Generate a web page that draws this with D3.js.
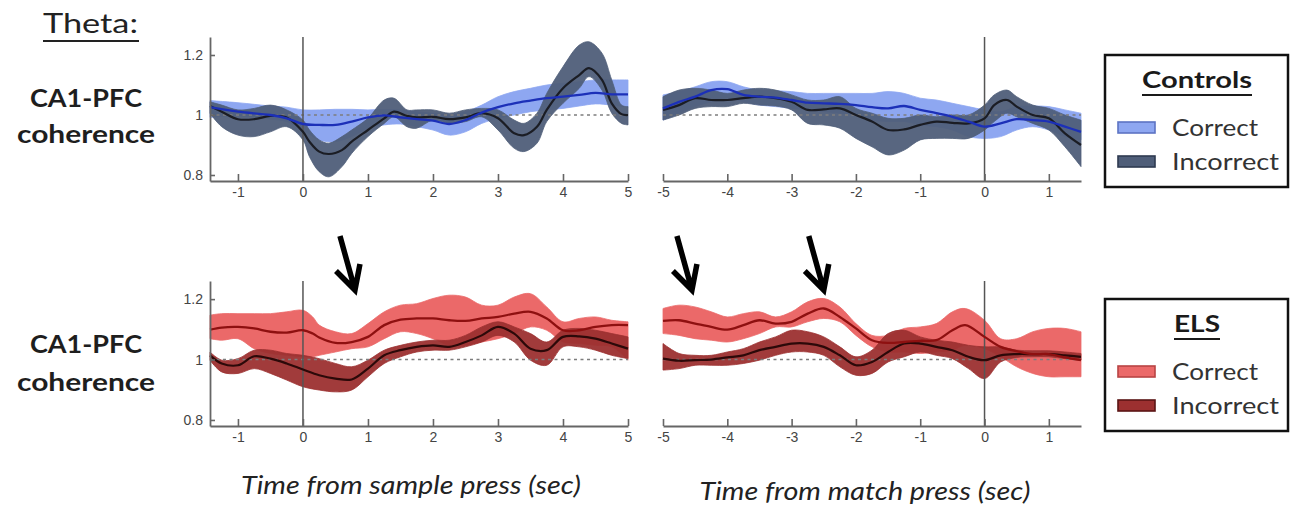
<!DOCTYPE html>
<html>
<head>
<meta charset="utf-8">
<script src="https://cdn.jsdelivr.net/npm/d3@7"></script>
<style>
  body { margin: 0; background: #fff; }
  svg { display: block; }
</style>
</head>
<body>
<svg id="chart" width="1293" height="506"></svg>
<script>
// ---------- axes ----------
const yDomain = [0.78, 1.26];
const yTicks = [0.8, 1, 1.2];
const sampleDomain = [-1.43, 5];
const matchDomain = [-5, 1.5];
const sampleTicks = [-1, 0, 1, 2, 3, 4, 5];
const matchTicks = [-5, -4, -3, -2, -1, 0, 1];

// ---------- Controls, time from sample press ----------
const ctlSampleCorT    = [-1.43,-1,-0.5,-0.25,0,0.25,0.5,0.75,1,1.25,1.5,1.75,2,2.25,2.5,2.75,3,3.25,3.5,3.75,4,4.25,4.5,4.75,5];
const ctlSampleCorMean = [1.026,1.011,1.000,0.989,0.970,0.967,0.967,0.978,0.992,0.999,0.992,0.986,0.981,0.970,0.983,1.008,1.026,1.039,1.048,1.056,1.061,1.067,1.074,1.069,1.069];
const ctlSampleCorHi   = [1.048,1.041,1.030,1.026,1.017,1.017,1.019,1.019,1.017,1.019,1.017,1.011,1.006,1.000,1.011,1.033,1.061,1.078,1.089,1.100,1.106,1.111,1.117,1.117,1.117];
const ctlSampleCorLo   = [0.992,0.997,0.986,0.978,0.950,0.917,0.911,0.928,0.956,0.967,0.970,0.961,0.950,0.933,0.944,0.972,0.989,1.000,1.011,1.017,1.022,1.030,1.037,1.033,1.026];

const ctlSampleIncT    = [-1.43,-1.25,-1,-0.75,-0.5,-0.25,0,0.1,0.25,0.4,0.6,0.75,1,1.25,1.4,1.6,1.75,2,2.25,2.5,2.75,3,3.25,3.4,3.6,3.75,4,4.25,4.4,4.6,4.75,4.9,5];
const ctlSampleIncMean = [1.030,1.011,0.986,0.986,0.997,0.992,0.944,0.911,0.878,0.870,0.883,0.911,0.950,0.989,1.011,0.997,0.992,0.994,0.986,0.992,1.006,0.989,0.939,0.933,0.961,1.017,1.089,1.133,1.156,1.117,1.039,1.003,1.000];
const ctlSampleIncHi   = [1.044,1.033,1.017,1.022,1.033,1.017,0.983,0.950,0.917,0.906,0.928,0.950,0.989,1.050,1.056,1.017,1.017,1.017,1.006,1.017,1.022,1.017,0.983,0.972,1.006,1.072,1.161,1.233,1.244,1.206,1.117,1.033,1.028];
const ctlSampleIncLo   = [1.006,0.961,0.933,0.928,0.944,0.961,0.917,0.861,0.811,0.794,0.828,0.872,0.928,0.972,0.994,0.961,0.956,0.983,0.972,0.978,0.994,0.950,0.889,0.878,0.906,0.978,1.039,1.089,1.128,1.083,1.006,0.972,0.967];

// ---------- Controls, time from match press ----------
const ctlMatchCorT    = [-5,-4.75,-4.5,-4.25,-4,-3.75,-3.5,-3.25,-3,-2.75,-2.5,-2.25,-2,-1.75,-1.5,-1.25,-1,-0.75,-0.5,-0.25,0,0.25,0.5,0.75,1,1.25,1.5];
const ctlMatchCorMean = [1.022,1.044,1.061,1.083,1.086,1.067,1.061,1.058,1.050,1.041,1.039,1.037,1.033,1.026,1.022,1.030,1.017,1.006,0.994,0.978,0.961,0.972,0.986,0.983,0.978,0.961,0.944];
const ctlMatchCorHi   = [1.067,1.078,1.094,1.111,1.111,1.094,1.083,1.081,1.078,1.072,1.072,1.072,1.072,1.072,1.078,1.072,1.056,1.050,1.039,1.028,1.017,1.011,1.028,1.030,1.028,1.017,1.006];
const ctlMatchCorLo   = [0.983,1.006,1.028,1.044,1.056,1.044,1.033,1.028,1.022,1.017,1.011,1.006,1.000,0.983,0.978,0.978,0.967,0.961,0.950,0.928,0.922,0.928,0.950,0.961,0.950,0.928,0.917];

const ctlMatchIncT    = [-5,-4.75,-4.5,-4.25,-4,-3.75,-3.5,-3.25,-3,-2.75,-2.5,-2.25,-2,-1.75,-1.5,-1.25,-1,-0.75,-0.5,-0.25,0,0.15,0.35,0.5,0.75,1,1.25,1.5];
const ctlMatchIncMean = [1.017,1.033,1.056,1.050,1.050,1.056,1.061,1.056,1.044,1.017,1.019,1.022,1.000,0.978,0.950,0.952,0.967,0.978,0.974,0.972,0.989,1.033,1.050,1.028,1.000,0.989,0.939,0.900];
const ctlMatchIncHi   = [1.061,1.083,1.089,1.083,1.072,1.083,1.089,1.083,1.067,1.050,1.050,1.061,1.022,1.006,0.989,0.989,1.000,0.994,1.000,1.000,1.033,1.067,1.083,1.061,1.033,1.022,1.000,0.983];
const ctlMatchIncLo   = [0.983,1.000,1.022,1.028,1.028,1.039,1.033,1.030,1.017,0.972,0.967,0.956,0.922,0.894,0.867,0.883,0.917,0.922,0.922,0.922,0.950,0.978,1.006,0.994,0.972,0.950,0.894,0.828];

// ---------- ELS, time from sample press ----------
const elsSampleCorT    = [-1.43,-1.25,-1,-0.75,-0.5,-0.25,0,0.15,0.25,0.5,0.75,1,1.25,1.5,1.75,2,2.25,2.5,2.75,3,3.25,3.5,3.75,4,4.25,4.5,4.75,5];
const elsSampleCorMean = [1.099,1.106,1.108,1.103,1.092,1.089,1.097,1.086,1.073,1.055,1.058,1.075,1.114,1.132,1.136,1.136,1.130,1.128,1.136,1.141,1.152,1.158,1.136,1.097,1.097,1.108,1.114,1.114];
const elsSampleCorHi   = [1.147,1.152,1.152,1.152,1.152,1.158,1.163,1.141,1.114,1.092,1.086,1.119,1.158,1.180,1.185,1.202,1.213,1.207,1.180,1.180,1.207,1.218,1.174,1.125,1.136,1.141,1.130,1.125];
const elsSampleCorLo   = [1.069,1.064,1.069,1.036,1.020,1.014,1.009,1.009,1.014,1.025,1.036,1.042,1.069,1.092,1.086,1.069,1.047,1.047,1.058,1.069,1.086,1.108,1.097,1.058,1.053,1.047,1.042,0.998];

const elsSampleIncT    = [-1.43,-1.25,-1,-0.75,-0.5,-0.25,0,0.25,0.5,0.75,1,1.25,1.5,1.75,2,2.25,2.5,2.75,3,3.25,3.5,3.75,4,4.25,4.5,4.75,5];
const elsSampleIncMean = [1.014,0.987,0.981,1.011,1.003,0.987,0.967,0.948,0.937,0.934,0.970,1.014,1.031,1.042,1.047,1.042,1.058,1.080,1.108,1.086,1.036,1.031,1.075,1.077,1.069,1.053,1.036];
const elsSampleIncHi   = [1.025,0.998,1.003,1.031,1.031,1.020,1.014,1.003,0.987,0.976,0.998,1.031,1.047,1.058,1.064,1.064,1.080,1.108,1.125,1.108,1.086,1.058,1.097,1.103,1.097,1.086,1.075];
const elsSampleIncLo   = [0.998,0.959,0.954,0.970,0.954,0.932,0.910,0.899,0.893,0.899,0.943,0.987,1.009,1.025,1.031,1.031,1.042,1.058,1.080,1.058,0.998,0.981,1.042,1.042,1.031,1.014,1.003];

// ---------- ELS, time from match press ----------
const elsMatchCorT    = [-5,-4.75,-4.5,-4.25,-4,-3.75,-3.5,-3.25,-3,-2.75,-2.5,-2.25,-2,-1.75,-1.5,-1.25,-1,-0.75,-0.5,-0.3,0,0.25,0.5,0.75,1,1.25,1.5];
const elsMatchCorMean = [1.128,1.130,1.119,1.108,1.099,1.114,1.130,1.119,1.125,1.152,1.169,1.141,1.103,1.064,1.055,1.058,1.062,1.064,1.097,1.114,1.075,1.042,1.028,1.018,1.018,1.007,0.998];
const elsMatchCorHi   = [1.169,1.180,1.174,1.158,1.141,1.152,1.158,1.141,1.158,1.191,1.202,1.174,1.119,1.080,1.080,1.103,1.108,1.119,1.158,1.169,1.130,1.069,1.069,1.092,1.103,1.103,1.092];
const elsMatchCorLo   = [1.086,1.080,1.069,1.064,1.058,1.069,1.086,1.108,1.108,1.125,1.136,1.125,1.080,1.042,1.025,1.025,1.020,1.025,1.031,1.047,1.036,1.009,0.976,0.954,0.943,0.943,0.943];

const elsMatchIncT    = [-5,-4.75,-4.5,-4.25,-4,-3.75,-3.5,-3.25,-3,-2.75,-2.5,-2.25,-2,-1.75,-1.5,-1.25,-1,-0.75,-0.5,-0.25,0,0.25,0.5,0.75,1,1.25,1.5];
const elsMatchIncMean = [1.003,0.996,0.998,1.000,1.007,1.014,1.031,1.042,1.053,1.053,1.042,1.014,0.981,0.992,1.025,1.053,1.053,1.042,1.031,1.009,0.998,1.014,1.018,1.018,1.018,1.014,1.009];
const elsMatchIncHi   = [1.053,1.020,1.014,1.014,1.025,1.036,1.058,1.075,1.097,1.092,1.075,1.042,1.009,1.031,1.086,1.097,1.075,1.064,1.058,1.047,1.042,1.042,1.031,1.029,1.029,1.025,1.020];
const elsMatchIncLo   = [0.965,0.970,0.981,0.981,0.981,0.987,0.998,1.014,1.025,1.025,1.014,0.976,0.948,0.954,0.992,1.009,1.025,1.014,1.003,0.970,0.937,0.992,1.007,1.009,1.009,1.003,0.998];

// arrows mark moments in the ELS panels (alignment, time in sec, coherence at the tip)
const arrowMarks = [
  { align: "sample", t: 0.8,   v: 1.23 },
  { align: "match",  t: -4.55, v: 1.23 },
  { align: "match",  t: -2.5,  v: 1.23 }
];

// ---------- styles ----------
const palette = {
  Controls: { corBand: "#8ea7f1", corLine: "#1c30b8", incBand: "#4f5e79", incLine: "#1b1d24",
              corEdge: "#5d74c4", incEdge: "#2e3a50" },
  ELS:      { corBand: "#eb6969", corLine: "#8e1010", incBand: "#9c3030", incLine: "#2c0909",
              corEdge: "#b84444", incEdge: "#5a1515" }
};
const labelFont = "Lato, 'Open Sans', 'DejaVu Sans', sans-serif";
const tickFont = "'Liberation Sans', Arial, sans-serif";

function zipSeries(t, mean, lo, hi) {
  return t.map((d, i) => ({ t: d, m: mean[i], lo: lo[i], hi: hi[i] }));
}

const rows = [
  { group: "Controls", yRange: [181, 37],
    sample: { cor: zipSeries(ctlSampleCorT, ctlSampleCorMean, ctlSampleCorLo, ctlSampleCorHi),
              inc: zipSeries(ctlSampleIncT, ctlSampleIncMean, ctlSampleIncLo, ctlSampleIncHi) },
    match:  { cor: zipSeries(ctlMatchCorT, ctlMatchCorMean, ctlMatchCorLo, ctlMatchCorHi),
              inc: zipSeries(ctlMatchIncT, ctlMatchIncMean, ctlMatchIncLo, ctlMatchIncHi) } },
  { group: "ELS", yRange: [426, 281],
    sample: { cor: zipSeries(elsSampleCorT, elsSampleCorMean, elsSampleCorLo, elsSampleCorHi),
              inc: zipSeries(elsSampleIncT, elsSampleIncMean, elsSampleIncLo, elsSampleIncHi) },
    match:  { cor: zipSeries(elsMatchCorT, elsMatchCorMean, elsMatchCorLo, elsMatchCorHi),
              inc: zipSeries(elsMatchIncT, elsMatchIncMean, elsMatchIncLo, elsMatchIncHi) } }
];

const cols = [
  { key: "sample", domain: sampleDomain, ticks: sampleTicks, range: [210, 628], yAxis: true },
  { key: "match",  domain: matchDomain,  ticks: matchTicks,  range: [663, 1081], yAxis: false }
];

const svg = d3.select("#chart");
const curve = d3.curveCatmullRom.alpha(0.5);
const scales = {};

rows.forEach(row => {
  const y = d3.scaleLinear().domain(yDomain).range(row.yRange);
  const pal = palette[row.group];
  cols.forEach(col => {
    const x = d3.scaleLinear().domain(col.domain).range(col.range);
    scales[row.group + "-" + col.key] = { x, y };
    const g = svg.append("g").attr("class", "panel");
    const data = row[col.key];

    const area = d3.area().curve(curve)
      .x(d => x(d.t)).y0(d => y(d.lo)).y1(d => y(d.hi));
    const line = d3.line().curve(curve)
      .x(d => x(d.t)).y(d => y(d.m));

    // confidence bands
    g.append("path").datum(data.cor).attr("d", area)
      .attr("fill", pal.corBand).attr("stroke", pal.corBand).attr("stroke-width", 0.8);
    g.append("path").datum(data.inc).attr("d", area)
      .attr("fill", pal.incBand).attr("stroke", pal.incBand).attr("stroke-width", 0.8)
      .attr("fill-opacity", 0.95);

    // reference level at coherence = 1
    g.append("line")
      .attr("x1", col.range[0]).attr("x2", col.range[1])
      .attr("y1", y(1)).attr("y2", y(1))
      .attr("stroke", "#7d7d7d").attr("stroke-width", 1.6)
      .attr("stroke-dasharray", "3,3.5");

    // event onset
    g.append("line")
      .attr("x1", x(0)).attr("x2", x(0))
      .attr("y1", y(yDomain[1])).attr("y2", y(yDomain[0]))
      .attr("stroke", "#555").attr("stroke-width", 1.5);

    // mean traces
    g.append("path").datum(data.inc).attr("d", line)
      .attr("fill", "none").attr("stroke", pal.incLine).attr("stroke-width", 2.2);
    g.append("path").datum(data.cor).attr("d", line)
      .attr("fill", "none").attr("stroke", pal.corLine).attr("stroke-width", 2.3);

    // x axis
    const xAxis = d3.axisBottom(x).tickValues(col.ticks)
      .tickSizeInner(-7).tickSizeOuter(0).tickPadding(6)
      .tickFormat(d => String(d));
    const gx = svg.append("g").attr("transform", `translate(0,${y(yDomain[0])})`).call(xAxis);
    styleAxis(gx);

    if (col.yAxis) {
      const yAxis = d3.axisLeft(y).tickValues(yTicks)
        .tickSizeInner(-5).tickSizeOuter(0).tickPadding(7)
        .tickFormat(d => String(d));
      const gy = svg.append("g").attr("transform", `translate(${col.range[0]},0)`).call(yAxis);
      styleAxis(gy);
    }
  });
});

function styleAxis(g) {
  g.select(".domain").attr("stroke", "#666").attr("stroke-width", 1.8);
  g.selectAll(".tick line").attr("stroke", "#666").attr("stroke-width", 1.6);
  g.selectAll(".tick text").attr("fill", "#444")
    .style("font-family", tickFont).style("font-size", "14px");
}

// ---------- arrows ----------
arrowMarks.forEach(a => {
  const s = scales["ELS-" + a.align];
  const tx = s.x(a.t), ty = s.y(a.v);
  const path = d3.path();
  path.moveTo(tx - 15, ty - 54);
  path.lineTo(tx, ty);
  path.moveTo(tx - 19, ty - 19);
  path.lineTo(tx, ty);
  path.lineTo(tx + 5, ty - 26);
  svg.append("path").attr("d", path.toString())
    .attr("fill", "none").attr("stroke", "#000")
    .attr("stroke-width", 5.5).attr("stroke-linejoin", "miter")
    .attr("stroke-linecap", "butt");
});

// ---------- row labels ----------
function addText(txt, x, yb, opts) {
  const t = svg.append("text").text(txt)
    .attr("x", x).attr("y", yb)
    .attr("fill", opts.fill || "#1e1e1e")
    .style("font-family", labelFont)
    .style("font-size", opts.size + "px")
    .style("font-weight", opts.weight || "normal")
    .style("font-style", opts.style || "normal")
    .attr("text-anchor", opts.anchor || "start");
  if (opts.len) t.attr("textLength", opts.len).attr("lengthAdjust", "spacingAndGlyphs");
  return t;
}

addText("Theta:", 43, 33, { size: 26, len: 95, fill: "#222" });
svg.append("line").attr("x1", 43).attr("x2", 139).attr("y1", 41).attr("y2", 41)
  .attr("stroke", "#222").attr("stroke-width", 2);

[[107, 143], [353, 391]].forEach(([b1, b2]) => {
  addText("CA1-PFC", 86, b1, { size: 25, weight: "bold", anchor: "middle", len: 112 });
  addText("coherence", 86, b2, { size: 25, weight: "bold", anchor: "middle", len: 138 });
});

addText("Time from sample press (sec)", 411, 494, { size: 25, style: "italic", anchor: "middle", len: 340, fill: "#222" });
addText("Time from match press (sec)", 865, 500, { size: 25, style: "italic", anchor: "middle", len: 331, fill: "#222" });

// ---------- legends ----------
const legendItems = ["Correct", "Incorrect"];
const legendBoxes = [
  { group: "Controls", top: 55, titleLen: 110 },
  { group: "ELS", top: 299, titleLen: 46 }
];
legendBoxes.forEach(lb => {
  const pal = palette[lb.group];
  const g = svg.append("g");
  g.append("rect").attr("x", 1105).attr("y", lb.top).attr("width", 183).attr("height", 132)
    .attr("fill", "#fff").attr("stroke", "#111").attr("stroke-width", 2.5);
  g.append("text").text(lb.group)
    .attr("x", 1197).attr("y", lb.top + 33).attr("text-anchor", "middle")
    .attr("fill", "#1a1a1a")
    .style("font-family", labelFont).style("font-size", "23px").style("font-weight", "bold")
    .attr("textLength", lb.titleLen).attr("lengthAdjust", "spacingAndGlyphs");
  g.append("line").attr("x1", 1197 - lb.titleLen / 2).attr("x2", 1197 + lb.titleLen / 2)
    .attr("y1", lb.top + 40).attr("y2", lb.top + 40)
    .attr("stroke", "#1a1a1a").attr("stroke-width", 2);
  legendItems.forEach((name, i) => {
    const base = lb.top + 81 + i * 34;
    const isCor = i === 0;
    g.append("rect").attr("x", 1118).attr("y", base - 14).attr("width", 37).attr("height", 11)
      .attr("fill", isCor ? pal.corBand : pal.incBand)
      .attr("stroke", isCor ? pal.corEdge : pal.incEdge).attr("stroke-width", 1.6);
    g.append("text").text(name)
      .attr("x", 1172).attr("y", base)
      .attr("fill", "#333")
      .style("font-family", labelFont).style("font-size", "23px")
      .attr("textLength", isCor ? 86 : 107).attr("lengthAdjust", "spacingAndGlyphs");
  });
});
</script>
</body>
</html>
